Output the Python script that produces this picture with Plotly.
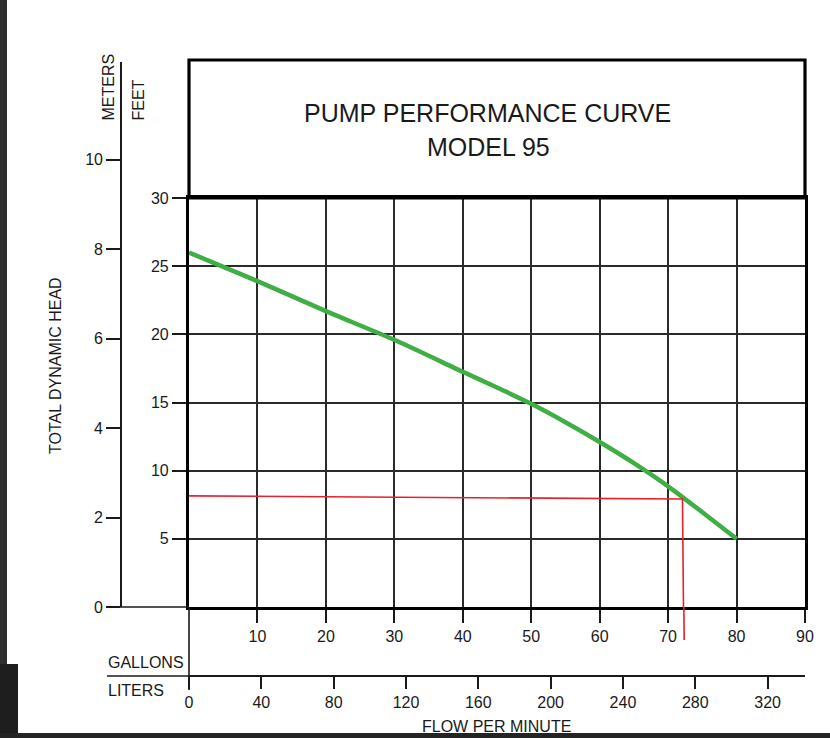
import plotly.graph_objects as go

W, H = 830, 738

# ---- data ----
flow_gpm = [0, 10, 20, 30, 40, 45, 50, 55, 60, 65, 70, 75, 80]
head_ft = [26.0, 23.9, 21.7, 19.6, 17.25, 16.1, 14.9, 13.55, 12.1, 10.55, 8.85, 6.95, 5.0]

gallon_ticks = [10, 20, 30, 40, 50, 60, 70, 80, 90]
feet_ticks = [5, 10, 15, 20, 25, 30]
meter_ticks = [0, 2, 4, 6, 8, 10]
liter_ticks = [0, 40, 80, 120, 160, 200, 240, 280, 320]

op_line_flow = [0, 72.1, 72.3]
op_line_head = [8.15, 7.92, -3.0]

L_PER_GAL = 3.78541
FT_PER_M = 3.28084

# ---- layout helpers (pixel -> paper) ----
def px(x):
    return x / W

def py(y):
    return 1 - y / H

X0, X1 = 189, 805
Y0, Y30 = 607, 198
ft_per_px = 30 / (Y0 - Y30)
meters_top = (Y0 - 62) * ft_per_px / FT_PER_M

FONT = "Liberation Sans, Arial, sans-serif"
INK = "#1a1a1a"

fig = go.Figure()

fig.add_trace(go.Scatter(x=flow_gpm, y=head_ft, mode="lines",
                         line=dict(color="#3fae45", width=4.5, shape="spline", smoothing=0.6),
                         hoverinfo="skip", showlegend=False))
fig.add_trace(go.Scatter(x=op_line_flow, y=op_line_head, mode="lines",
                         line=dict(color="#e8202a", width=1.6),
                         hoverinfo="skip", showlegend=False))
# dummy traces for secondary axes
fig.add_trace(go.Scatter(x=[None], y=[None], xaxis="x2", yaxis="y", showlegend=False, hoverinfo="skip"))
fig.add_trace(go.Scatter(x=[None], y=[None], xaxis="x3", yaxis="y2", showlegend=False, hoverinfo="skip"))

tickfont = dict(family=FONT, size=16, color=INK)

fig.update_layout(
    width=W, height=H, autosize=False,
    margin=dict(l=0, r=0, t=0, b=0, pad=0, autoexpand=False),
    paper_bgcolor="white", plot_bgcolor="rgba(0,0,0,0)",
    showlegend=False,
    xaxis=dict(domain=[px(X0), px(X1)], range=[0, 90], anchor="y", automargin=False,
               tickvals=gallon_ticks, ticktext=[str(v) for v in gallon_ticks],
               ticks="outside", ticklen=13, tickwidth=1.6, tickcolor=INK,
               showline=True, linewidth=3.2, linecolor="#000", mirror=True,
               showgrid=True, gridcolor="#2a2a2a", gridwidth=1.6,
               zeroline=False, tickfont=tickfont, fixedrange=True),
    yaxis=dict(domain=[py(Y0), py(Y30)], range=[0, 30], anchor="x", automargin=False,
               tickvals=feet_ticks, ticktext=[str(v) for v in feet_ticks],
               ticks="outside", ticklen=14, tickwidth=1.6, tickcolor=INK,
               showline=True, linewidth=3.2, linecolor="#000", mirror=True,
               showgrid=True, gridcolor="#2a2a2a", gridwidth=1.6,
               zeroline=False, tickfont=tickfont, fixedrange=True),
    xaxis2=dict(overlaying="x", anchor="free", position=py(676), side="bottom",
                automargin=False, range=[0, 90 * L_PER_GAL],
                tickvals=liter_ticks, ticktext=[str(v) for v in liter_ticks],
                ticks="outside", ticklen=12, tickwidth=1.6, tickcolor=INK,
                showline=True, linewidth=1.6, linecolor=INK,
                showgrid=False, zeroline=False, tickfont=tickfont, fixedrange=True),
    xaxis3=dict(domain=[px(X0), px(X1)], range=[0, 90], anchor="y2", visible=False,
                automargin=False, showgrid=False, fixedrange=True),
    yaxis2=dict(domain=[py(Y0), py(62)], range=[0, meters_top], anchor="free",
                position=px(121), side="left", automargin=False,
                tickvals=meter_ticks, ticktext=[str(v) for v in meter_ticks],
                ticks="outside", ticklen=14, tickwidth=1.6, tickcolor=INK,
                showline=True, linewidth=1.6, linecolor=INK,
                showgrid=False, zeroline=False, tickfont=tickfont, fixedrange=True),
)

shapes = []
# title box
shapes.append(dict(type="rect", xref="paper", yref="paper",
                   x0=px(X0), x1=px(X1), y0=py(Y30), y1=py(60),
                   line=dict(color="#000", width=3.2), fillcolor="rgba(0,0,0,0)"))
# extension of the zero line to the meters axis
shapes.append(dict(type="line", xref="paper", yref="paper",
                   x0=px(107), x1=px(X0), y0=py(Y0), y1=py(Y0),
                   line=dict(color=INK, width=1.6)))
# liters baseline extension
shapes.append(dict(type="line", xref="paper", yref="paper",
                   x0=px(107), x1=px(X0), y0=py(676), y1=py(676),
                   line=dict(color=INK, width=1.6)))
# vertical divider below plot at zero flow
shapes.append(dict(type="line", xref="paper", yref="paper",
                   x0=px(X0), x1=px(X0), y0=py(Y0), y1=py(690),
                   line=dict(color=INK, width=1.6)))
# red operating line extension below the axis
shapes.append(dict(type="line", xref="x", yref="paper",
                   x0=op_line_flow[2], x1=op_line_flow[2] + 0.05, y0=py(Y0), y1=py(640),
                   line=dict(color="#e8202a", width=1.6)))
# dark frame strips of the screenshot
shapes.append(dict(type="rect", xref="paper", yref="paper", x0=0, x1=px(7), y0=0, y1=1,
                   line=dict(width=0), fillcolor="#2e2e2e", layer="above"))
shapes.append(dict(type="rect", xref="paper", yref="paper", x0=0, x1=px(18), y0=0, y1=py(664),
                   line=dict(width=0), fillcolor="#1e1e1e", layer="above"))
fig.update_layout(shapes=shapes)


def label(text, x, y, size=16, angle=0, xanchor="center", yanchor="middle"):
    return dict(text=text, x=px(x), y=py(y), xref="paper", yref="paper",
                xanchor=xanchor, yanchor=yanchor, textangle=angle, showarrow=False,
                font=dict(family=FONT, size=size, color=INK))


ann = [
    label("PUMP PERFORMANCE CURVE", 487, 113, size=25),
    label("MODEL 95", 488, 147, size=25),
    label("TOTAL DYNAMIC HEAD", 56, 366, angle=-90),
    label("METERS", 108, 123, angle=-90, yanchor="bottom"),
    label("FEET", 138, 123, angle=-90, yanchor="bottom"),
    label("GALLONS", 106, 662, xanchor="left"),
    label("LITERS", 106, 690, xanchor="left"),
    label("FLOW PER MINUTE", 496, 737, yanchor="bottom"),
]
fig.update_layout(annotations=ann)

# bottom dark strip of the screenshot
fig.add_shape(type="rect", xref="paper", yref="paper", x0=0, x1=1, y0=0, y1=py(733),
              line=dict(width=0), fillcolor="#242424", layer="above")

fig.write_html("out.html", config={"responsive": False, "displayModeBar": False},
               post_script="document.body.style.margin='0';document.body.style.overflow='hidden';")
